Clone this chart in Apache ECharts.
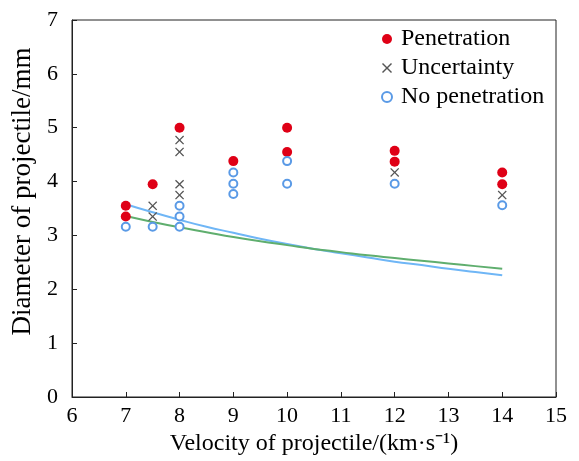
<!DOCTYPE html>
<html>
<head>
<meta charset="utf-8">
<script src="https://cdn.jsdelivr.net/npm/echarts@6/dist/echarts.min.js"></script>
<style>html,body{margin:0;padding:0;background:#fff}#c{width:579px;height:461px}</style>
</head>
<body>
<div id="c"></div>
<script>
// Scatter data [velocity km/s, diameter mm]
const penetration = [[7,3.55],[7,3.35],[7.5,3.95],[8,5.0],[9,4.38],[10,5.0],[10,4.55],[12,4.57],[12,4.37],[14,4.17],[14,3.95]];
const uncertainty = [[7.5,3.55],[7.5,3.35],[8,4.77],[8,4.55],[8,3.95],[8,3.75],[12,4.17],[14,3.75]];
const noPenetration = [[7,3.16],[7.5,3.16],[8,3.55],[8,3.35],[8,3.16],[9,4.17],[9,3.96],[9,3.77],[10,4.38],[10,3.96],[12,3.96],[14,3.56]];
// Fitted curves
const curveV = [7,7.5,8,8.5,9,9.5,10,10.5,11,11.5,12,12.5,13,13.5,14];
const blueCurve = [3.58,3.43,3.29,3.16,3.05,2.94,2.84,2.75,2.67,2.59,2.51,2.45,2.38,2.32,2.26];
const greenCurve = [3.36,3.25,3.15,3.06,2.97,2.89,2.82,2.75,2.69,2.63,2.58,2.53,2.48,2.43,2.38];
const xTicks = [6,7,8,9,10,11,12,13,14,15];
const yTicks = [0,1,2,3,4,5,6,7];

const FONT = 'Liberation Serif';
const crossPath = 'path://M1,0L5,4L9,0L10,1L6,5L10,9L9,10L5,6L1,10L0,9L4,5L0,1Z';

const chart = echarts.init(document.getElementById('c'), null, {renderer:'canvas'});
chart.setOption({
  backgroundColor:'#fff',
  animation:false,
  grid:{left:72,right:23,top:20,bottom:64,show:true,borderColor:'#222',borderWidth:1},
  legend:{
    orient:'vertical', left:376, top:22, itemGap:5, itemWidth:14, itemHeight:10,
    textStyle:{fontFamily:FONT,fontSize:24,color:'#000',padding:[0,0,0,2]},
    data:['Penetration','Uncertainty','No penetration']
  },
  xAxis:{
    type:'value', min:xTicks[0], max:xTicks[xTicks.length-1], interval:1,
    name:'Velocity of projectile/(km·s⁻¹)', nameLocation:'middle', nameGap:31,
    nameTextStyle:{fontFamily:FONT,fontSize:24,color:'#000'},
    axisLine:{lineStyle:{color:'#222'}},
    axisTick:{inside:true,length:5,lineStyle:{color:'#222'}},
    axisLabel:{fontFamily:FONT,fontSize:22,color:'#000',margin:8},
    splitLine:{show:false}
  },
  yAxis:{
    type:'value', min:yTicks[0], max:yTicks[yTicks.length-1], interval:1,
    name:'Diameter of projectile/mm', nameLocation:'middle', nameGap:36,
    nameTextStyle:{fontFamily:FONT,fontSize:27,color:'#000',padding:[0,0,0,34]},
    axisLine:{lineStyle:{color:'#222'}},
    axisTick:{inside:true,length:5,lineStyle:{color:'#222'}},
    axisLabel:{fontFamily:FONT,fontSize:22,color:'#000',margin:14},
    splitLine:{show:false}
  },
  series:[
    {type:'line', data:curveV.map((v,i)=>[v,blueCurve[i]]), smooth:true, symbol:'none', lineStyle:{color:'#6fb6f6',width:2}, silent:true, z:1},
    {type:'line', data:curveV.map((v,i)=>[v,greenCurve[i]]), smooth:true, symbol:'none', lineStyle:{color:'#5fae6e',width:2}, silent:true, z:1},
    {name:'Penetration', type:'scatter', data:penetration, symbol:'circle', symbolSize:10, itemStyle:{color:'#df0016',opacity:1}, z:3},
    {name:'Uncertainty', type:'scatter', data:uncertainty, symbol:crossPath, symbolSize:9, itemStyle:{color:'#555',opacity:1}, z:3},
    {name:'No penetration', type:'scatter', data:noPenetration, symbol:'circle', symbolSize:8, itemStyle:{color:'#fff',borderColor:'#5a9ae6',borderWidth:2,opacity:1}, z:3}
  ]
});
</script>
</body>
</html>
